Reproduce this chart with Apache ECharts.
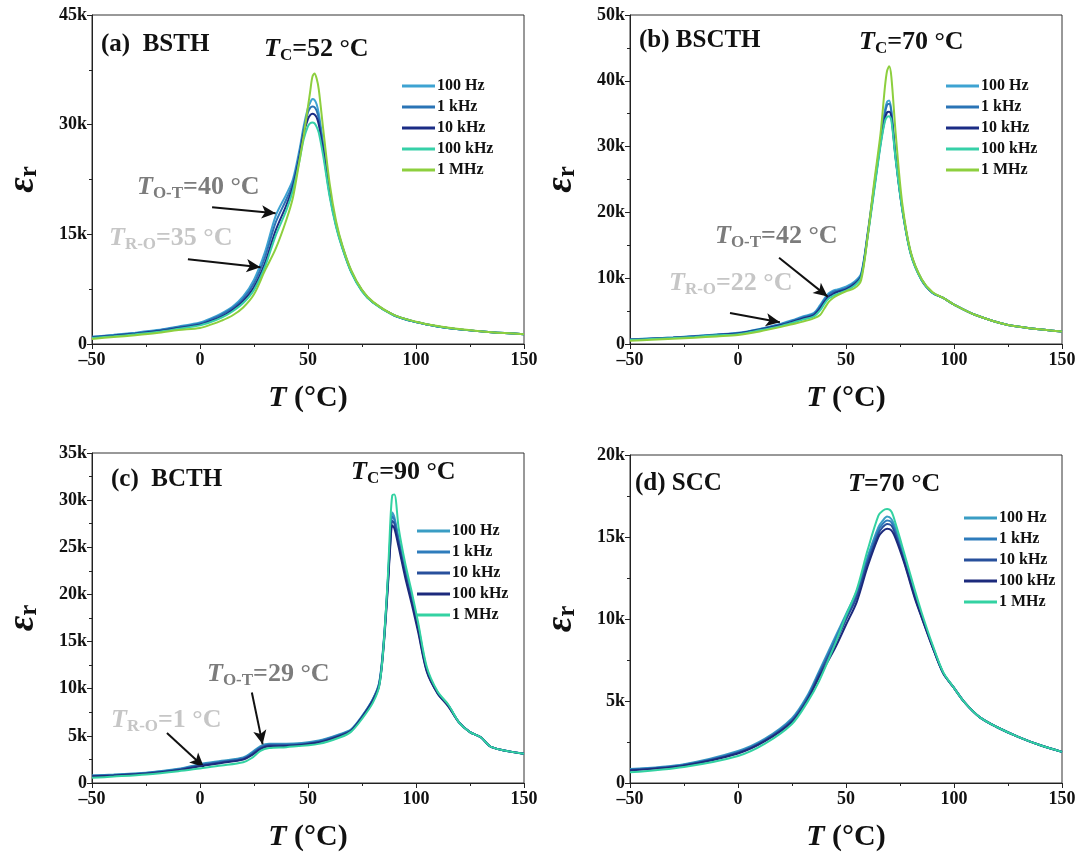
<!DOCTYPE html>
<html>
<head>
<meta charset="utf-8">
<script src="https://cdn.jsdelivr.net/npm/echarts@6/dist/echarts.min.js"></script>
<style>
  html, body { margin: 0; padding: 0; background: #fff; }
  #main { width: 1083px; height: 861px; }
</style>
</head>
<body>
<div id="main"></div>
<script>
// 频率名称
const freqNames = ['100 Hz', '1 kHz', '10 kHz', '100 kHz', '1 MHz'];

// (a) BSTH
const tempA = [-50,-40,-30,-20,-10,0,5,10,15,20,25,30,35,40,43,46,48,50,51,52,53,54,55,57,60,63,66,70,75,80,90,100,110,120,135,150];
const bsth100Hz = [1000,1250,1550,1900,2400,2950,3500,4200,5100,6500,8800,12500,17500,20500,22500,26500,29800,32300,33000,33500,33400,32800,31500,27500,21000,16500,13300,10000,7300,5700,3900,3000,2400,2000,1600,1350];
const bsth1kHz = [950,1200,1480,1820,2300,2800,3350,4000,4900,6200,8300,11800,16600,19800,22000,26000,29300,31700,32300,32500,32400,31900,30800,27000,20800,16300,13200,9900,7300,5700,3900,3000,2400,2000,1600,1350];
const bsth10kHz = [900,1130,1400,1730,2180,2650,3150,3750,4650,5900,7800,11000,15500,19000,21500,25500,28800,30800,31300,31500,31400,31000,30000,26500,20500,16200,13100,9900,7300,5700,3900,3000,2400,2000,1600,1350];
const bsth100kHz = [820,1050,1320,1640,2080,2550,3000,3600,4450,5600,7400,10500,14800,18300,21000,25000,28000,29800,30200,30300,30200,29700,28900,25800,20200,16000,13000,9800,7200,5700,3900,3000,2400,2000,1600,1350];
const bsth1MHz = [700,950,1200,1500,1900,2200,2650,3200,3900,5000,6800,10000,13000,17000,20000,25000,28500,32500,34500,36500,37000,36300,34800,29500,22000,16800,13400,10100,7400,5800,3950,3050,2450,2050,1600,1350];

// (b) BSCTH
const tempB = [-50,-40,-30,-20,-10,0,10,20,25,30,35,38,40,42,44,46,50,54,57,60,63,66,68,69,70,71,73,76,80,85,90,95,100,110,125,150];
const bscth100Hz = [700,850,1000,1200,1450,1700,2300,3100,3600,4200,4700,5900,6900,7700,8100,8300,8700,9500,10700,16800,24000,31000,35500,36800,37000,35500,28500,20800,13800,9800,7800,7000,6000,4400,2900,1900];
const bscth1kHz = [680,830,980,1170,1420,1650,2250,3000,3500,4050,4550,5700,6700,7500,7900,8100,8500,9300,10500,16600,23800,30800,35000,36300,36500,35200,28400,20700,13800,9800,7800,7000,6000,4400,2900,1900];
const bscth10kHz = [650,800,950,1130,1380,1600,2180,2900,3350,3900,4350,5400,6400,7200,7600,7900,8300,9100,10300,16400,23500,30500,34200,35200,35300,34500,28200,20600,13700,9700,7800,7000,6000,4400,2900,1900];
const bscth100kHz = [600,760,900,1080,1320,1500,2080,2750,3200,3700,4150,5100,6100,6900,7300,7600,8100,8900,10100,16200,23200,30200,33800,34500,34600,34000,28000,20500,13600,9700,7800,7000,6000,4400,2900,1900];
const bscth1MHz = [500,650,800,950,1150,1350,1900,2600,3000,3400,3900,4400,5400,6400,7000,7400,8000,8500,9700,16300,24500,32000,39000,41500,42200,40600,32000,21500,14000,9900,7900,7000,6000,4400,2900,1900];

// (c) BCTH
const tempC = [-50,-40,-25,-10,0,10,20,24,28,32,40,55,65,70,75,80,83,85,87,88,89,90,92,95,98,101,105,110,115,120,125,130,135,150];
const bcth100Hz = [800,900,1100,1500,2000,2350,2700,3250,3900,4150,4150,4500,5200,5700,7100,8900,10700,14900,21700,25800,28700,28200,25900,22700,19900,16700,12100,9600,8200,6400,5400,4850,3800,3100];
const bcth1kHz = [760,860,1060,1450,1920,2270,2620,3150,3800,4080,4080,4430,5130,5650,7050,8850,10600,14800,21500,25500,28300,27900,25700,22500,19700,16500,12000,9600,8200,6400,5400,4850,3800,3100];
const bcth10kHz = [720,820,1020,1400,1850,2200,2550,3050,3700,4000,4000,4360,5060,5600,7000,8800,10500,14600,21200,25200,27800,27500,25400,22200,19400,16300,11900,9500,8200,6400,5400,4850,3800,3100];
const bcth100kHz = [680,780,980,1350,1780,2130,2480,2950,3600,3900,3920,4300,5000,5550,6950,8700,10400,14400,20900,24800,27300,27000,25000,21800,19000,16000,11800,9500,8100,6400,5400,4850,3800,3100];
const bcth1MHz = [550,680,900,1250,1550,1850,2200,2650,3400,3700,3800,4150,4850,5450,6800,8500,10300,14600,22000,27200,30500,30600,27000,23300,20300,17000,12300,9700,8300,6400,5400,4850,3800,3100];

// (d) SCC
const tempD = [-50,-25,0,12.5,25,32,37.5,45,50,55,60,65,67,69,71,73,77,82,85,90,95,100,105,112,120,130,140,150];
const scc100Hz = [850,1150,1950,2700,3950,5300,6800,8900,10300,11700,13800,15600,16000,16250,16100,15500,13700,11400,10200,8350,6700,5800,4900,4000,3400,2800,2300,1900];
const scc1kHz = [820,1120,1900,2650,3880,5200,6700,8750,10150,11550,13650,15400,15800,16000,15900,15300,13600,11400,10200,8350,6700,5800,4900,4000,3400,2800,2300,1900];
const scc10kHz = [790,1090,1850,2600,3800,5100,6600,8550,9950,11350,13450,15200,15600,15800,15700,15100,13500,11300,10150,8350,6700,5800,4900,4000,3400,2800,2300,1900];
const scc100kHz = [760,1060,1800,2550,3720,5000,6450,8250,9650,11050,13200,15000,15350,15500,15400,14900,13400,11200,10100,8300,6700,5800,4900,4000,3400,2800,2300,1900];
const scc1MHz = [650,980,1650,2400,3600,4900,6200,8500,10200,11800,14200,16300,16600,16700,16550,15800,14000,11700,10400,8450,6750,5800,4900,4000,3400,2800,2300,1900];

// 刻度
const yMaxList = [45000, 50000, 35000, 20000];
const yStepList = [15000, 10000, 5000, 5000];

const serif = '"Liberation Serif", "Times New Roman", serif';
const colorsAB = ['#3ea3d2', '#2a74b6', '#1b2c85', '#36d0a8', '#8dcf3e'];
const colorsCD = ['#3a9dc4', '#2e7cbc', '#28509c', '#1c2a7c', '#33d2a2'];

const panels = [
	{temp: tempA, vals: [bsth100Hz, bsth1kHz, bsth10kHz, bsth100kHz, bsth1MHz], colors: colorsAB,
	 grid: {left: 92, top: 15, width: 432, height: 329}, legend: {left: 397, top: 73},
	 arrows: [[[5.6, 18700], [35, 17900]], [[-5.6, 11600], [28, 10500]]]},
	{temp: tempB, vals: [bscth100Hz, bscth1kHz, bscth10kHz, bscth100kHz, bscth1MHz], colors: colorsAB,
	 grid: {left: 630, top: 15, width: 432, height: 329}, legend: {left: 941, top: 73},
	 arrows: [[[19, 13100], [41.5, 7200]], [[-3.7, 4700], [19.4, 3300]]]},
	{temp: tempC, vals: [bcth100Hz, bcth1kHz, bcth10kHz, bcth100kHz, bcth1MHz], colors: colorsCD,
	 grid: {left: 92, top: 453, width: 432, height: 330}, legend: {left: 412, top: 518},
	 arrows: [[[24, 9600], [29, 4100]], [[-15.3, 5300], [1.8, 1700]]]},
	{temp: tempD, vals: [scc100Hz, scc1kHz, scc10kHz, scc100kHz, scc1MHz], colors: colorsCD,
	 grid: {left: 630, top: 455, width: 432, height: 328}, legend: {left: 959, top: 505},
	 arrows: []}
];

function zip(xs, ys){
	return xs.map(function(x, i){ return [x, ys[i]]; });
}

let grids = [], xAxes = [], yAxes = [], series = [], legends = [];
panels.forEach(function(p, k){
	grids.push(Object.assign({show: true, borderColor: '#333', borderWidth: 1}, p.grid));
	xAxes.push({
		type: 'value', gridIndex: k, min: -50, max: 150, interval: 50,
		axisLine: {onZero: false, lineStyle: {color: '#222', width: 1}},
		axisTick: {inside: false, length: 5, lineStyle: {color: '#222'}},
		minorTick: {show: true, splitNumber: 2, length: 3, lineStyle: {color: '#222'}},
		splitLine: {show: false},
		axisLabel: {fontFamily: serif, fontWeight: 'bold', fontSize: 18, color: '#111', margin: 7,
			formatter: function(v){ return v < 0 ? '\u2013' + Math.abs(v) : String(v); }},
		name: '{i|T} (\u00b0C)', nameLocation: 'middle', nameGap: 39,
		nameTextStyle: {fontFamily: serif, fontWeight: 'bold', fontSize: 30, color: '#111',
			rich: {i: {fontFamily: serif, fontWeight: 'bold', fontStyle: 'italic', fontSize: 30, color: '#111'}}}
	});
	yAxes.push({
		type: 'value', gridIndex: k, min: 0, max: yMaxList[k], interval: yStepList[k],
		axisLine: {show: true, onZero: false, lineStyle: {color: '#222', width: 1}},
		axisTick: {show: true, inside: false, length: 5, lineStyle: {color: '#222'}},
		minorTick: {show: true, splitNumber: 2, length: 3, lineStyle: {color: '#222'}},
		splitLine: {show: false},
		axisLabel: {fontFamily: serif, fontWeight: 'bold', fontSize: 18, color: '#111', margin: 5,
			formatter: function(v){ return v === 0 ? '0' : (v / 1000) + 'k'; }},
		name: '{e|\u03b5}{r|r}', nameLocation: 'middle', nameGap: 50, nameRotate: 90,
		nameTextStyle: {color: '#111',
			rich: {
				e: {fontFamily: serif, fontWeight: 'bold', fontStyle: 'italic', fontSize: 38, lineHeight: 38, verticalAlign: 'middle', color: '#111'},
				r: {fontFamily: serif, fontWeight: 'bold', fontSize: 25, lineHeight: 20, verticalAlign: 'bottom', color: '#111'}
			}}
	});
	let legendData = [];
	p.vals.forEach(function(v, j){
		let s = {
			type: 'line', name: freqNames[j], xAxisIndex: k, yAxisIndex: k,
			data: zip(p.temp, v), symbol: 'none', smooth: 0.3,
			lineStyle: {color: p.colors[j], width: 2}, itemStyle: {color: p.colors[j]},
			z: 2 + j, silent: true
		};
		if(j === 0 && p.arrows.length){
			s.markLine = {
				silent: true, symbol: ['none', 'arrow'], symbolSize: [10, 14],
				lineStyle: {color: '#111', width: 2, type: 'solid'},
				label: {show: false},
				data: p.arrows.map(function(a){ return [{coord: a[0]}, {coord: a[1]}]; })
			};
		}
		series.push(s);
		legendData.push({name: freqNames[j], icon: 'rect', itemStyle: {color: p.colors[j]}});
	});
	legends.push({
		orient: 'vertical', left: p.legend.left, top: p.legend.top,
		itemWidth: 33, itemHeight: 3, itemGap: 5, selectedMode: false,
		textStyle: {fontFamily: serif, fontWeight: 'bold', fontSize: 16, lineHeight: 16, color: '#111', padding: [0, 0, 0, -3]},
		data: legendData
	});
});

// 标注文字
const richBase = {
	i: {fontFamily: serif, fontWeight: 'bold', fontStyle: 'italic', fontSize: 26, lineHeight: 30, verticalAlign: 'middle'},
	s: {fontFamily: serif, fontWeight: 'bold', fontSize: 17, lineHeight: 16, verticalAlign: 'bottom'},
	n: {fontFamily: serif, fontWeight: 'bold', fontSize: 26, lineHeight: 30, verticalAlign: 'middle'}
};
function label(x, y, text, color){
	let rich = {};
	Object.keys(richBase).forEach(function(key){
		rich[key] = Object.assign({}, richBase[key], {fill: color});
	});
	return {type: 'text', left: x, top: y, z: 100, silent: true,
		style: {text: text, fill: color, rich: rich}};
}
function title(x, y, text){
	return {type: 'text', left: x, top: y, z: 100, silent: true,
		style: {text: text, fill: '#111', font: 'bold 25px ' + serif}};
}

const graphics = [
	title(101, 32, '(a)  BSTH'),
	label(264, 36, '{i|T}{s|C}{n|=52 \u00b0C}', '#111'),
	label(137, 174, '{i|T}{s|O-T}{n|=40 \u00b0C}', '#7c7c7c'),
	label(109, 225, '{i|T}{s|R-O}{n|=35 \u00b0C}', '#c6c6c6'),
	title(639, 28, '(b) BSCTH'),
	label(859, 29, '{i|T}{s|C}{n|=70 \u00b0C}', '#111'),
	label(715, 223, '{i|T}{s|O-T}{n|=42 \u00b0C}', '#7c7c7c'),
	label(669, 270, '{i|T}{s|R-O}{n|=22 \u00b0C}', '#c6c6c6'),
	title(111, 467, '(c)  BCTH'),
	label(351, 459, '{i|T}{s|C}{n|=90 \u00b0C}', '#111'),
	label(207, 661, '{i|T}{s|O-T}{n|=29 \u00b0C}', '#7c7c7c'),
	label(111, 707, '{i|T}{s|R-O}{n|=1 \u00b0C}', '#c6c6c6'),
	title(635, 471, '(d) SCC'),
	label(848, 471, '{i|T}{n|=70 \u00b0C}', '#111')
];

let myChart = echarts.init(document.getElementById('main'), null, {renderer: 'canvas'});
myChart.setOption({
	animation: false,
	backgroundColor: '#fff',
	grid: grids,
	xAxis: xAxes,
	yAxis: yAxes,
	legend: legends,
	series: series,
	graphic: graphics
});
</script>
</body>
</html>
